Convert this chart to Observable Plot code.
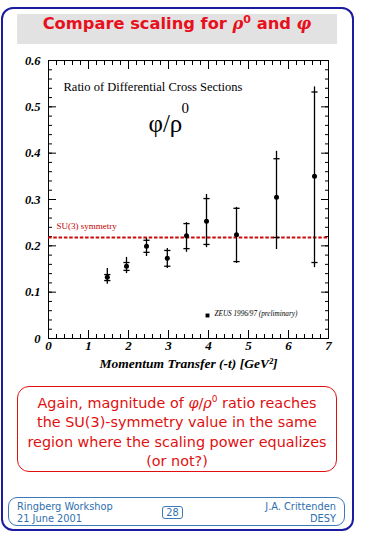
<!DOCTYPE html>
<html>
<head>
<meta charset="utf-8">
<script src="https://cdn.jsdelivr.net/npm/d3@7"></script>
<script src="https://cdn.jsdelivr.net/npm/@observablehq/plot@0.6"></script>
<style>
  html, body { margin: 0; padding: 0; background: #fff; }
  #page { position: relative; width: 365px; height: 535px; overflow: hidden; }
  .abs { position: absolute; box-sizing: border-box; }
  #outer { left: 1px; top: 7px; width: 353px; height: 524px; border: 2px solid #1c1ca0; border-radius: 12px; }
  #band { left: 17px; top: 14px; width: 320px; height: 30px; background: #e2e2e2; }
  #title { left: 17px; top: 14px; width: 320px; height: 30px; line-height: 30px; text-align: center;
           font: bold 16.3px "DejaVu Sans", sans-serif; color: #e8101c; }
  #title i { font-family: "DejaVu Serif", serif; }
  #title sup { font-size: 11px; line-height: 0; }
  #chart { left: 0; top: 0; }
  #note { left: 17px; top: 386px; width: 320px; height: 86px; border: 1.5px solid #e01010; border-radius: 12px;
          color: #e01010; font: 14.4px "DejaVu Sans", sans-serif; text-align: center; line-height: 19.3px; padding-top: 7px; white-space: nowrap; }
  #note i { font-family: "DejaVu Serif", serif; }
  #note sup { font-size: 9px; line-height: 0; }
  #footer { left: 8px; top: 497px; width: 337px; height: 29px; border: 1.5px solid #3a7ab8; border-radius: 9px;
            color: #2f6fae; font: 9.8px "DejaVu Sans", sans-serif; }
  #fl { position: absolute; left: 8px; top: 3px; line-height: 12px; }
  #fr { position: absolute; right: 8px; top: 3px; line-height: 12px; text-align: right; }
  #pg { position: absolute; left: 153px; top: 8px; width: 21px; height: 13px; border: 1px solid #3a7ab8; border-radius: 3px;
        text-align: center; line-height: 12px; box-sizing: border-box; }
</style>
</head>
<body>
<div id="page">
  <div class="abs" id="outer"></div>
  <div class="abs" id="band"></div>
  <div class="abs" id="title">Compare scaling for <i>ρ</i><sup>0</sup> and <i>φ</i></div>
  <div class="abs" id="chart"></div>
  <div class="abs" id="note">Again, magnitude of <i>φ</i>/<i>ρ</i><sup>0</sup> ratio reaches<br>the SU(3)-symmetry value in the same<br>region where the scaling power equalizes<br>(or not?)</div>
  <div class="abs" id="footer">
    <div id="fl">Ringberg Workshop<br>21 June 2001</div>
    <div id="pg">28</div>
    <div id="fr">J.A. Crittenden<br>DESY</div>
  </div>
</div>
<script>
// ---- data ----
const momentumTransfer = [1.47, 1.95, 2.45, 2.97, 3.45, 3.95, 4.70, 5.70, 6.65];
const ratio            = [0.132, 0.156, 0.199, 0.173, 0.222, 0.253, 0.224, 0.305, 0.350];
const statLow          = [0.125, 0.147, 0.186, 0.156, 0.194, 0.203, 0.166, 0.218, 0.164];
const statHigh         = [0.138, 0.164, 0.212, 0.190, 0.248, 0.302, 0.281, 0.388, 0.532];
const totalLow         = [0.117, 0.140, 0.177, 0.151, 0.186, 0.196, 0.162, 0.192, 0.153];
const totalHigh        = [0.151, 0.175, 0.216, 0.194, 0.250, 0.311, 0.283, 0.404, 0.543];
const su3Value = [0.218];
const xTicks = [0, 1, 2, 3, 4, 5, 6, 7];
const yTicks = [0, 0.1, 0.2, 0.3, 0.4, 0.5, 0.6];
const legendLabel = "ZEUS 1996/97 (preliminary)";
const xLabel = "Momentum Transfer (-t) [GeV²]";

const points = momentumTransfer.map((x, i) => ({
  x, y: ratio[i], sLo: statLow[i], sHi: statHigh[i], tLo: totalLow[i], tHi: totalHigh[i]
}));

const xMinor = d3.range(0, 7.0001, 0.2);
const yMinor = d3.range(0, 0.6001, 0.02);

const hbar = { draw(ctx, size) { const r = Math.sqrt(size) / 2; ctx.moveTo(-r, 0); ctx.lineTo(r, 0); } };

const serif = "Liberation Serif, Times New Roman, serif";

const chart = Plot.plot({
  width: 365,
  height: 370,
  marginLeft: 48,
  marginRight: 37,
  marginTop: 60,
  marginBottom: 32,
  style: { background: "transparent", fontFamily: serif, color: "black" },
  x: { domain: [0, 7], label: null },
  y: { domain: [0, 0.6], label: null },
  marks: [
    // inward minor / major ticks on all four sides
    Plot.axisY({ ticks: yMinor, tickSize: -4, text: null, anchor: "left", label: null }),
    Plot.axisY({ ticks: yTicks, tickSize: -8, text: null, anchor: "left", label: null }),
    Plot.axisY({ ticks: yMinor, tickSize: -4, text: null, anchor: "right", label: null }),
    Plot.axisY({ ticks: yTicks, tickSize: -8, text: null, anchor: "right", label: null }),
    Plot.axisX({ ticks: xMinor, tickSize: -4, text: null, anchor: "bottom", label: null }),
    Plot.axisX({ ticks: xTicks, tickSize: -8, text: null, anchor: "bottom", label: null }),
    Plot.axisX({ ticks: xMinor, tickSize: -4, text: null, anchor: "top", label: null }),
    Plot.axisX({ ticks: xTicks, tickSize: -8, text: null, anchor: "top", label: null }),
    // labels
    Plot.axisY({ ticks: yTicks, tickSize: 0, tickPadding: 8, anchor: "left", label: null,
      tickFormat: d => d === 0 ? "0" : d.toFixed(1), fontSize: 12.5, fontWeight: "bold", fontStyle: "italic" }),
    Plot.axisX({ ticks: xTicks, tickSize: 0, tickPadding: 2, anchor: "bottom", label: null,
      tickFormat: d => String(d), fontSize: 13, fontWeight: "bold", fontStyle: "italic" }),
    Plot.text([xLabel], { text: d => d, frameAnchor: "bottom", dy: 25, lineAnchor: "middle",
      fontSize: 13.5, fontWeight: "bold", fontStyle: "italic" }),
    Plot.frame({ stroke: "black", strokeWidth: 1 }),
    // SU(3) line + label
    Plot.ruleY(su3Value, { y: d => d, stroke: "#cc0a0a", strokeWidth: 2, strokeDasharray: "3.5,1.8" }),
    Plot.text(su3Value, { y: d => d, text: () => "SU(3) symmetry", frameAnchor: "left", dx: 8, dy: -11,
      textAnchor: "start", fontSize: 9, fill: "#c00000" }),
    // annotation
    Plot.text(["Ratio of Differential Cross Sections"], { text: d => d, frameAnchor: "top-left", dx: 15, dy: 22,
      textAnchor: "start", fontSize: 12.5 }),
    Plot.text(["φ/ρ"], { text: d => d, frameAnchor: "top-left", dx: 100, dy: 54, textAnchor: "start", fontSize: 25 }),
    Plot.text(["0"], { text: d => d, frameAnchor: "top-left", dx: 133, dy: 42, textAnchor: "start", fontSize: 15 }),
    // error bars
    Plot.ruleX(points, { x: "x", y1: "tLo", y2: "tHi", stroke: "black", strokeWidth: 1.3 }),
    Plot.dot(points, { x: "x", y: "sLo", symbol: hbar, r: 3.5, stroke: "black", strokeWidth: 1.3, fill: "none" }),
    Plot.dot(points, { x: "x", y: "sHi", symbol: hbar, r: 3.5, stroke: "black", strokeWidth: 1.3, fill: "none" }),
    Plot.dot(points, { x: "x", y: "y", r: 2.5, fill: "black", stroke: "none" }),
    // legend
    Plot.dot([legendLabel], { frameAnchor: "bottom-left", dx: 159, dy: -23, symbol: "square", r: 2.2, fill: "black" }),
    Plot.text([legendLabel], { text: d => d, frameAnchor: "bottom-left", dx: 166, dy: -23, textAnchor: "start",
      fontSize: 7.2, fontStyle: "italic" })
  ]
});
document.getElementById("chart").appendChild(chart);
</script>
</body>
</html>
